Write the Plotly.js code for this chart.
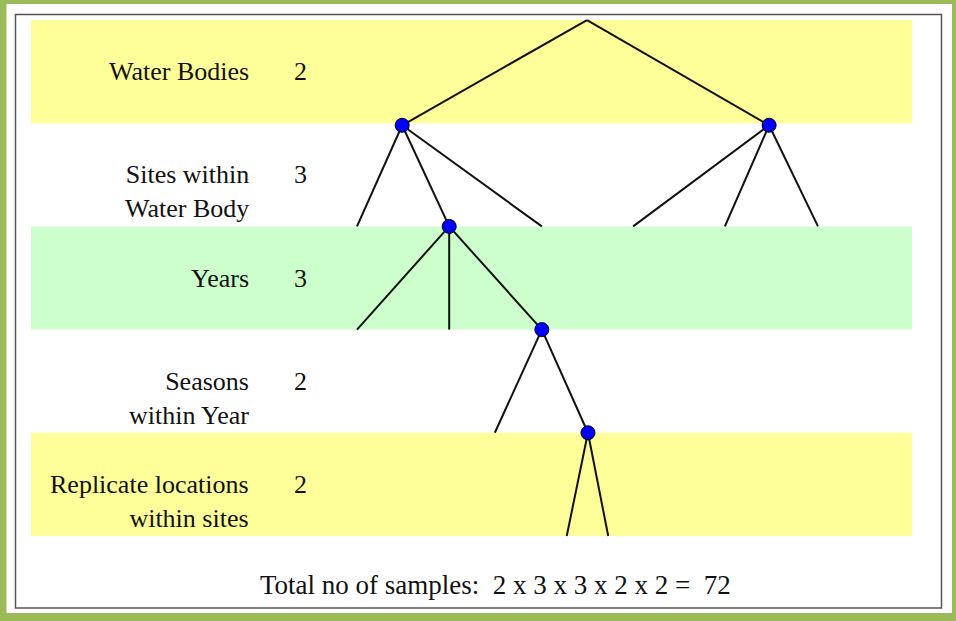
<!DOCTYPE html>
<html>
<head>
<meta charset="utf-8">
<script src="https://cdn.plot.ly/plotly-3.0.1.min.js"></script>
<style>html,body{margin:0;padding:0;background:#fff;}#chart{width:956px;height:621px;}</style>
</head>
<body>
<div id="chart"></div>
<script>
// ---- data ----
const levelNames = ['Water Bodies', 'Sites within<br>Water Body', 'Years', 'Seasons<br>within Year', 'Replicate locations<br>within sites'];
const levelCounts = [2, 3, 3, 2, 2];
const bandColors = ['#FFFF99', '#FFFFFF', '#CCFFCC', '#FFFFFF', '#FFFF99'];
// tree edges (x position in branch units, y = depth level)
const edgeFromX = [4.99, 4.99, 0.98, 0.98, 0.98, 8.94, 8.94, 8.94, 2.0, 2.0, 2.0, 4.01, 4.01, 5.01, 5.01];
const edgeFromY = [0, 0, 1.02, 1.02, 1.02, 1.02, 1.02, 1.02, 2, 2, 2, 3, 3, 4, 4];
const edgeToX   = [0.98, 8.94, 0.0, 2.0, 4.01, 5.99, 7.98, 10.0, 0.0, 2.0, 4.01, 2.99, 5.01, 4.55, 5.45];
const edgeToY   = [1.02, 1.02, 2, 2, 2, 2, 2, 2, 3, 3, 3, 4, 4, 5, 5];
// expanded (blue) nodes
const nodeX = [0.98, 8.94, 2.0, 4.01, 5.01];
const nodeY = [1.02, 1.02, 2, 3, 4];
const totalText = 'Total no of samples:  2 x 3 x 3 x 2 x 2 =  72';

// ---- build ----
const lx = [], ly = [];
for (let i = 0; i < edgeFromX.length; i++) {
  lx.push(edgeFromX[i], edgeToX[i], null);
  ly.push(edgeFromY[i], edgeToY[i], null);
}
const traces = [
  {x: lx, y: ly, mode: 'lines', type: 'scatter', line: {color: '#111', width: 2}, hoverinfo: 'skip', showlegend: false},
  {x: nodeX, y: nodeY, mode: 'markers', type: 'scatter',
   marker: {size: 14, color: '#0000FF', line: {color: '#000', width: 1}}, hoverinfo: 'skip', showlegend: false}
];

const shapes = [];
bandColors.forEach((c, i) => {
  if (c === '#FFFFFF') return;
  shapes.push({type: 'rect', xref: 'paper', yref: 'y', x0: 31/956, x1: 912/956, y0: i, y1: i + 1,
    fillcolor: c, line: {width: 0}, layer: 'below'});
});
// frame
const W = 956, H = 621;
shapes.push({type: 'rect', xref: 'paper', yref: 'paper', x0: 15.5/W, x1: 941.5/W, y0: 1 - 608/H, y1: 1 - 14.5/H,
  line: {color: '#555', width: 1.5}, fillcolor: 'rgba(0,0,0,0)'});
const green = '#9BBB59';
shapes.push({type: 'rect', xref: 'paper', yref: 'paper', x0: 0, x1: 1, y0: 1 - 4/H, y1: 1, fillcolor: green, line: {width: 0}});
shapes.push({type: 'rect', xref: 'paper', yref: 'paper', x0: 0, x1: 1, y0: 0, y1: 1 - 613/H, fillcolor: green, line: {width: 0}});
shapes.push({type: 'rect', xref: 'paper', yref: 'paper', x0: 0, x1: 6.5/W, y0: 0, y1: 1, fillcolor: green, line: {width: 0}});
shapes.push({type: 'rect', xref: 'paper', yref: 'paper', x0: 952/W, x1: 1, y0: 0, y1: 1, fillcolor: green, line: {width: 0}});

const fam = '"Liberation Serif", "Times New Roman", serif';
const font = {family: fam, size: 26, color: '#111'};
const annotations = [];
levelNames.forEach((t, i) => {
  const nLines = t.split('<br>').length;
  annotations.push({xref: 'paper', yref: 'y', x: 251/W, y: i + 0.5 + (nLines - 1) * 0.165,
    text: t, showarrow: false, xanchor: 'right', yanchor: 'middle', align: 'right', font: font});
  annotations.push({xref: 'paper', yref: 'y', x: 300/W, y: i + 0.5,
    text: String(levelCounts[i]), showarrow: false, xanchor: 'center', yanchor: 'middle', font: font});
});
annotations.push({xref: 'paper', yref: 'y', x: 495/W, y: 5.475, text: totalText, showarrow: false,
  xanchor: 'center', yanchor: 'middle', font: {family: fam, size: 27, color: '#111'}});

const layout = {
  width: 956, height: 621,
  margin: {l: 0, r: 0, t: 0, b: 0},
  paper_bgcolor: '#fff', plot_bgcolor: 'rgba(0,0,0,0)',
  xaxis: {range: [-7.744, 12.994], visible: false, fixedrange: true},
  yaxis: {range: [5.824, -0.194], visible: false, fixedrange: true},
  shapes: shapes, annotations: annotations, showlegend: false
};
Plotly.newPlot('chart', traces, layout, {staticPlot: true, displayModeBar: false});
</script>
</body>
</html>
